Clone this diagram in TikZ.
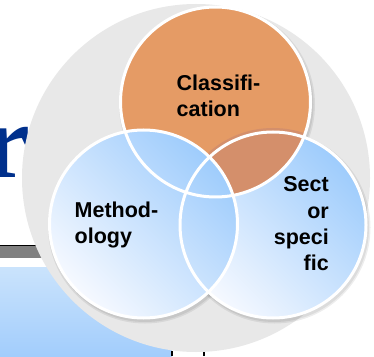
\documentclass[tikz,border=0pt]{standalone}
\usepackage{fontspec}
\setmainfont{Liberation Sans}
\newfontfamily\titlefont{Liberation Serif}
\definecolor{navy}{RGB}{0,48,140}
\definecolor{bigGrey}{RGB}{232,232,232}
\definecolor{orangeC}{RGB}{229,155,101}
\definecolor{brownC}{RGB}{212,143,107}
\definecolor{blueDeep}{RGB}{158,204,252}
\definecolor{blueLight}{RGB}{246,249,255}
\definecolor{barGrey}{RGB}{128,128,128}
\definecolor{paleTop}{RGB}{202,227,252}
\definecolor{paleBot}{RGB}{162,205,252}
\begin{document}
\begin{tikzpicture}[x=1pt,y=1pt,
  lbl/.style={inner sep=0pt,font=\fontsize{21.5}{26}\selectfont\bfseries,text=black},
  ring/.style={draw=white,line width=3pt},
  blueshade/.style={top color=blueDeep,bottom color=blueLight,shading angle=-45},
  softshadow/.style={fill=black,opacity=0.07}]
\fill[white] (0,0) rectangle (374,356);
\useasboundingbox (0,0) rectangle (374,356);
% background slide remnants
\node[inner sep=0pt,anchor=base west,text=navy,font=\titlefont\bfseries\fontsize{106}{106}\selectfont] (title) at (-17,178) {r};
\fill[barGrey] (0,98) rectangle (80,110);
\draw[black,line width=1.5pt] (0,110.5) -- (80,110.5);
\draw[black!65,line width=1pt] (0,89) -- (80,89);
\shade[top color=paleTop,bottom color=paleBot] (0,0) rectangle (171.5,88.5);
\draw[black,line width=1.3pt] (172,0) -- (172,5);
\draw[black,line width=1.3pt] (204,0) -- (204,4);
% big grey disc
\fill[bigGrey] (196,178) circle (174);
% shadows
\foreach \c/\r in {{(273,131)}/93,{(215.5,254)}/95,{(143.5,132)}/94}{
  \fill[softshadow] \c ++(1.5,-2.5) circle (\r+3);
  \fill[softshadow] \c ++(1.5,-2.5) circle (\r+1.5);
}
% circle fills
\shade[blueshade] (273,131) circle (93);
\fill[orangeC] (215.5,254) circle (95);
\begin{scope}
  \clip (215.5,254) circle (95);
  \fill[brownC] (273,131) circle (97);
\end{scope}
\shade[blueshade] (143.5,132) circle (94);
% white rings
\draw[ring] (273,131) circle (93);
\draw[ring] (215.5,254) circle (95);
\draw[ring] (143.5,132) circle (94);
% labels
\node[lbl,anchor=base west] (classif) at (176.5,265) {\begin{tabular}[t]{@{}l@{}}Classifi-\\cation\end{tabular}};
\node[lbl,anchor=base west] (method) at (74.5,139) {\begin{tabular}[t]{@{}l@{}}Method-\\ology\end{tabular}};
\node[lbl,anchor=base east] (sector) at (329,164) {\begin{tabular}[t]{@{}r@{}}Sect\\or\\speci\\fic\end{tabular}};
\end{tikzpicture}
\end{document}
